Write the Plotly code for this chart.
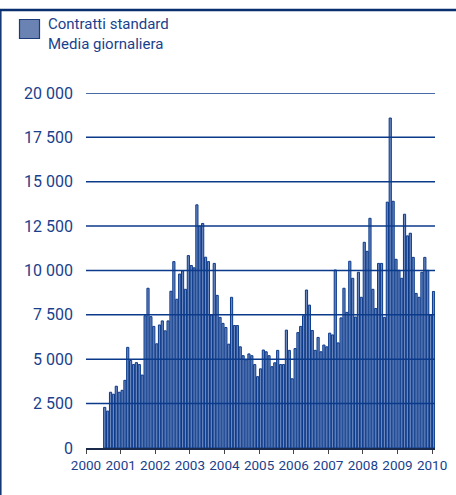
import pandas as pd
import plotly.graph_objects as go

# monthly averages, Jul 2000 - Jan 2010
months = pd.date_range('2000-07-01', periods=115, freq='MS')
v2000 = [2290, 2080, 3140, 3030, 3480, 3140]
v2001 = [3250, 3810, 5670, 4930, 4700, 4810, 4700, 4110, 7450, 9000, 7400, 6850]
v2002 = [5870, 6930, 7160, 6600, 7160, 8830, 10500, 8380, 9800, 9980, 8940, 10840]
v2003 = [10280, 10150, 13700, 12500, 12650, 10750, 10500, 7500, 10400, 8600, 7360, 7020]
v2004 = [6790, 5850, 8490, 6900, 6900, 5700, 5200, 4970, 5300, 5200, 4700, 4020]
v2005 = [4460, 5520, 5420, 5200, 4580, 4800, 5500, 4700, 4700, 6640, 5500, 3900]
v2006 = [5600, 6500, 6850, 7450, 8900, 8050, 6620, 5500, 6230, 5420, 5800, 5700]
v2007 = [6470, 6370, 10030, 5920, 7330, 9000, 7640, 10520, 9560, 7380, 9900, 8490]
v2008 = [11590, 11080, 12940, 8940, 7860, 10400, 10400, 7360, 13850, 18590, 13900, 10630]
v2009 = [10010, 9560, 13170, 11950, 12100, 10740, 8710, 8490, 9900, 10740, 10010, 7490]
v2010 = [8820]
values = v2000 + v2001 + v2002 + v2003 + v2004 + v2005 + v2006 + v2007 + v2008 + v2009 + v2010

years = [str(y) for y in range(2000, 2011)]
yticks = [0, 2500, 5000, 7500, 10000, 12500, 15000, 17500, 20000]
ylabels = ['0', '2 500', '5 000', '7 500', '10 000', '12 500', '15 000', '17 500', '20 000']

navy = '#0b3a8a'
txt = '#1a3f8c'
font = 'Roboto, sans-serif'

W, H = 456, 495
L, R, T, B = 86, 21, 93, 47
pw, ph = W - L - R, H - T - B


def px(x):
    return (x - L) / pw


def py(y):
    return (H - B - y) / ph


fig = go.Figure()
fig.add_trace(go.Bar(
    x=months,
    y=values,
    xperiod='M1',
    xperiodalignment='middle',
    marker=dict(color='#6a86bd', line=dict(color=navy, width=1)),
    showlegend=False,
))

for v in yticks[1:]:
    fig.add_hline(y=v, line=dict(color=navy, width=1.5), layer='above')

# frame lines and legend box
fig.add_shape(type='line', xref='paper', yref='paper', x0=px(0), x1=px(W), y0=py(10), y1=py(10),
              line=dict(color='#0a2f6e', width=2.5))
fig.add_shape(type='line', xref='paper', yref='paper', x0=px(0.8), x1=px(0.8), y0=py(10), y1=py(H),
              line=dict(color='#0a2f6e', width=1.5))
fig.add_shape(type='rect', xref='paper', yref='paper', x0=px(19.5), x1=px(39.5), y0=py(19.5), y1=py(38.5),
              fillcolor='#6a83b2', line=dict(color='#1d3c7b', width=1.2))
fig.add_annotation(text='Contratti standard', xref='paper', yref='paper', x=px(47), y=py(34),
                   xanchor='left', yanchor='bottom', showarrow=False, borderpad=0,
                   font=dict(family=font, size=15, color=txt))
fig.add_annotation(text='Media giornaliera', xref='paper', yref='paper', x=px(47), y=py(34),
                   xanchor='left', yanchor='top', showarrow=False, borderpad=0,
                   font=dict(family=font, size=15, color=txt))

fig.update_layout(
    width=W,
    height=H,
    margin=dict(l=L, r=R, t=T, b=B),
    paper_bgcolor='white',
    plot_bgcolor='white',
    bargap=0.22,
    font=dict(family=font, size=15, color=txt),
    xaxis=dict(
        type='date',
        range=['2000-01-01', '2010-02-01'],
        tickvals=[y + '-01-01' for y in years],
        ticktext=years,
        tickangle=0,
        automargin=False,
        ticks='outside',
        ticklen=4,
        tickcolor='#444444',
        showline=True,
        linecolor='#1a2a4a',
        linewidth=1.5,
        showgrid=False,
        tickfont=dict(family=font, size=13.5, color=txt),
    ),
    yaxis=dict(
        range=[0, 20000],
        tickvals=yticks,
        ticktext=ylabels,
        automargin=False,
        showgrid=False,
        zeroline=False,
        showline=False,
        ticklabelstandoff=12,
        tickfont=dict(family=font, size=16, color=txt),
    ),
)

# page body has a default 8px margin; remove it so the figure sits at the window corner
fig.write_html('out.html', config={'displayModeBar': False},
               post_script="document.body.style.margin='0px';")
